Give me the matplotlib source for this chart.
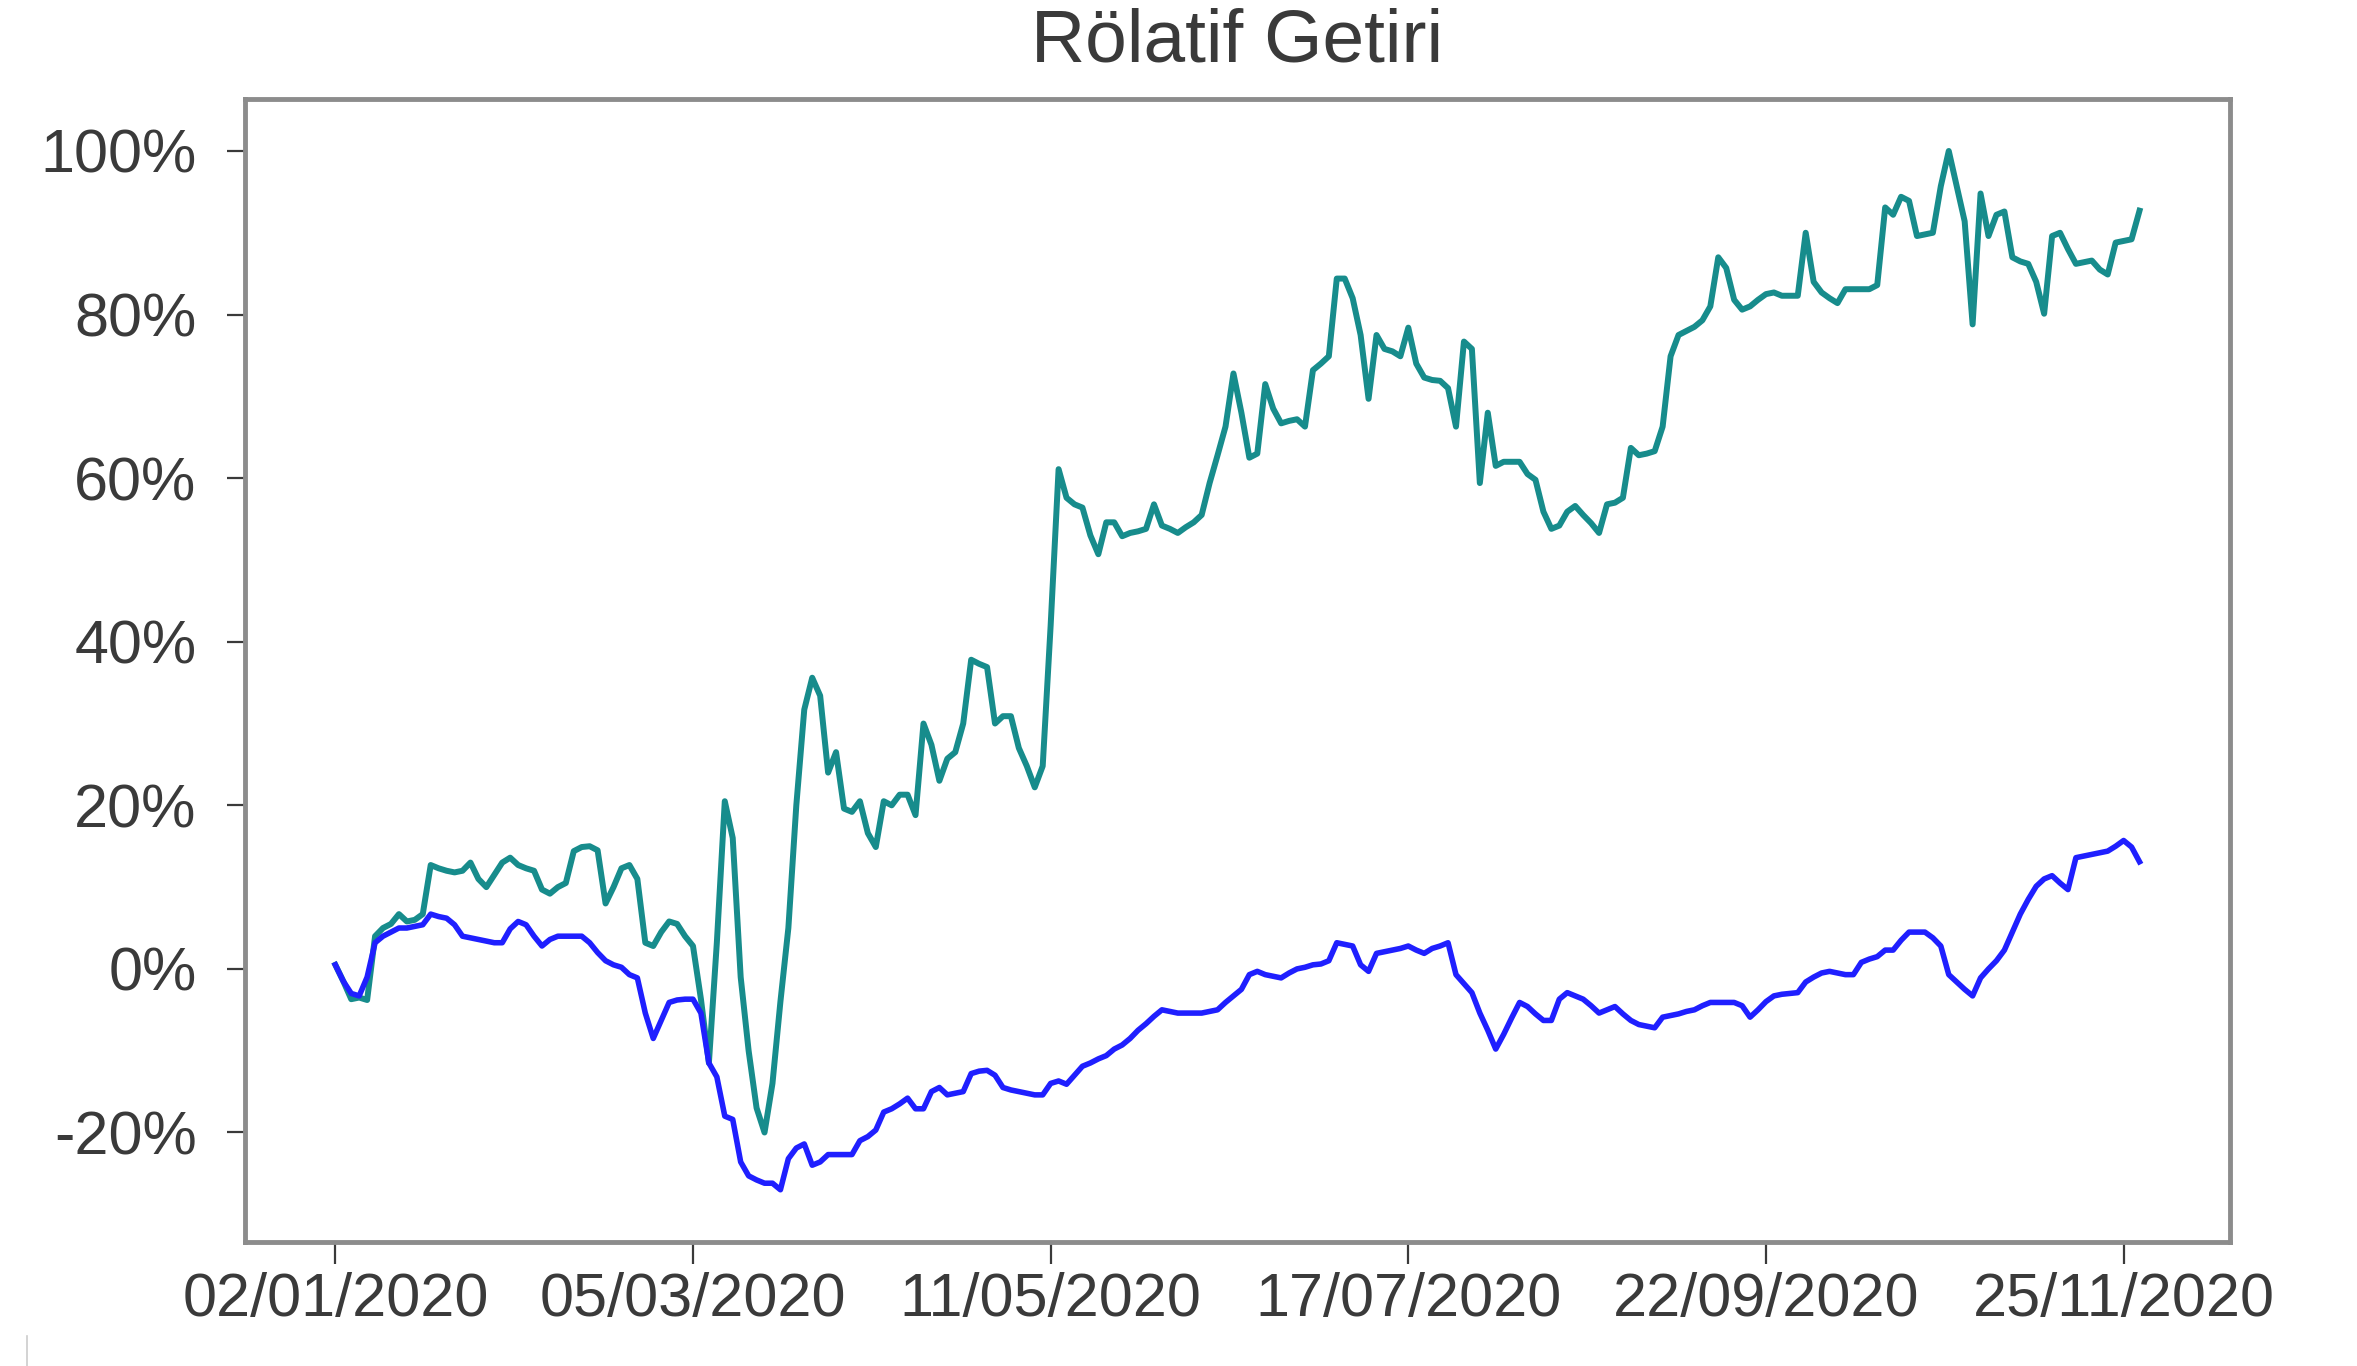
import matplotlib
matplotlib.use("Agg")
import matplotlib.pyplot as plt
from matplotlib.lines import Line2D

# Relatif getiri verisi (islem gunu bazinda, %)
hisse_getiri = [
    0.5, -1.5, -3.7, -3.5, -3.8, 4.0, 5.0, 5.5, 6.7, 5.8,
    6.0, 6.7, 12.7, 12.3, 12.0, 11.8, 12.0, 13.0, 11.0, 10.0,
    11.5, 13.0, 13.6, 12.7, 12.3, 12.0, 9.7, 9.2, 10.0, 10.5,
    14.4, 14.9, 15.0, 14.5, 8.0, 10.0, 12.3, 12.7, 11.0, 3.2,
    2.8, 4.5, 5.8, 5.5, 4.0, 2.8, -3.7, -11.5, 3.2, 20.5,
    16.0, -1.0, -10.0, -17.0, -20.0, -14.0, -4.0, 5.0, 20.0, 31.7,
    35.6, 33.4, 24.0, 26.5, 19.6, 19.2, 20.5, 16.6, 14.9, 20.5,
    20.0, 21.3, 21.3, 18.8, 30.0, 27.4, 23.0, 25.7, 26.5, 30.0,
    37.8, 37.3, 36.9, 30.0, 30.9, 30.9, 27.0, 24.8, 22.2, 24.8,
    42.0, 61.1, 57.6, 56.8, 56.4, 53.0, 50.7, 54.6, 54.6, 52.9,
    53.3, 53.5, 53.8, 56.8, 54.2, 53.8, 53.3, 54.0, 54.6, 55.5,
    59.4, 62.8, 66.3, 72.8, 68.0, 62.5, 63.0, 71.5, 68.5, 66.7,
    67.0, 67.2, 66.3, 73.2, 74.0, 74.9, 84.4, 84.4, 82.0, 77.5,
    69.7, 77.5, 75.8, 75.5, 74.9, 78.4, 74.0, 72.3, 72.0, 71.9,
    71.0, 66.3, 76.7, 75.8, 59.4, 68.0, 61.5, 62.0, 62.0, 62.0,
    60.5, 59.8, 55.9, 53.8, 54.2, 55.9, 56.6, 55.5, 54.5, 53.3,
    56.8, 57.0, 57.6, 63.7, 62.8, 63.0, 63.3, 66.3, 74.9, 77.5,
    78.0, 78.5, 79.3, 81.0, 87.0, 85.7, 81.8, 80.6, 81.0, 81.8,
    82.5, 82.7, 82.3, 82.3, 82.3, 90.0, 84.0, 82.7, 82.0, 81.4,
    83.1, 83.1, 83.1, 83.1, 83.6, 93.1, 92.2, 94.4, 93.9, 89.6,
    89.8, 90.0, 95.7, 100.0, 95.7, 91.4, 78.8, 94.8, 89.6, 92.2,
    92.6, 87.0, 86.5, 86.2, 84.0, 80.1, 89.6, 90.0, 88.0, 86.2,
    86.4, 86.6, 85.5, 84.9, 88.8, 89.0, 89.2, 92.7,
]

endeks_getiri = [
    0.5, -1.5, -3.0, -3.3, -1.0, 3.2, 4.0, 4.5, 5.0, 5.0,
    5.2, 5.4, 6.7, 6.4, 6.2, 5.4, 4.0, 3.8, 3.6, 3.4,
    3.2, 3.2, 4.9, 5.8, 5.4, 4.0, 2.8, 3.6, 4.0, 4.0,
    4.0, 4.0, 3.2, 2.0, 1.0, 0.5, 0.2, -0.7, -1.1, -5.4,
    -8.5, -6.3, -4.1, -3.8, -3.7, -3.7, -5.4, -11.5, -13.2, -18.0,
    -18.4, -23.6, -25.3, -25.8, -26.2, -26.2, -27.0, -23.2, -21.9, -21.4,
    -24.0, -23.6, -22.7, -22.7, -22.7, -22.7, -21.0, -20.5, -19.7, -17.5,
    -17.1, -16.5, -15.8, -17.1, -17.1, -15.0, -14.5, -15.4, -15.2, -15.0,
    -12.8, -12.5, -12.4, -13.0, -14.5, -14.8, -15.0, -15.2, -15.4, -15.4,
    -14.0, -13.7, -14.1, -13.0, -11.9, -11.5, -11.0, -10.6, -9.8, -9.3,
    -8.5, -7.5, -6.7, -5.8, -5.0, -5.2, -5.4, -5.4, -5.4, -5.4,
    -5.2, -5.0, -4.1, -3.3, -2.5, -0.7, -0.3, -0.7, -0.9, -1.1,
    -0.5, 0.0, 0.2, 0.5, 0.6, 1.0, 3.2, 3.0, 2.8, 0.5,
    -0.3, 1.9, 2.1, 2.3, 2.5, 2.8, 2.3, 1.9, 2.5, 2.8,
    3.2, -0.7, -1.8, -2.9, -5.4, -7.5, -9.8, -8.0, -6.0, -4.1,
    -4.6, -5.5, -6.3, -6.3, -3.7, -2.9, -3.3, -3.7, -4.5, -5.4,
    -5.0, -4.6, -5.5, -6.3, -6.8, -7.0, -7.2, -5.9, -5.7, -5.5,
    -5.2, -5.0, -4.5, -4.1, -4.1, -4.1, -4.1, -4.5, -5.9, -5.0,
    -4.0, -3.3, -3.1, -3.0, -2.9, -1.6, -1.0, -0.5, -0.3, -0.5,
    -0.7, -0.7, 0.8, 1.2, 1.5, 2.3, 2.3, 3.5, 4.5, 4.5,
    4.5, 3.8, 2.8, -0.7, -1.6, -2.5, -3.3, -1.1, 0.0, 1.0,
    2.3, 4.5, 6.7, 8.5, 10.1, 11.0, 11.4, 10.5, 9.7, 13.6,
    13.8, 14.0, 14.2, 14.4, 15.0, 15.7, 14.9, 13.1,
]

# Tarih etiketleri (her 45 islem gununde bir)
tarih_pozisyon = [0, 45, 90, 135, 180, 225]
tarih_etiket = ["02/01/2020", "05/03/2020", "11/05/2020",
                "17/07/2020", "22/09/2020", "25/11/2020"]
y_degerler = [-20, 0, 20, 40, 60, 80, 100]

plt.rcParams["font.family"] = ["Liberation Sans", "DejaVu Sans"]

gunler = list(range(len(hisse_getiri)))

fig = plt.figure(figsize=(23.57, 13.66), dpi=100)
ax = fig.add_axes([0.104, 0.091, 0.842, 0.8365])

ax.plot(gunler, hisse_getiri, color="#178c8c", linewidth=4.3)
ax.plot(gunler, endeks_getiri, color="#1f1fff", linewidth=4.0)

ax.set_title("Rölatif Getiri", fontsize=54, color="#3a3a3a", pad=27)

ax.set_xticks(tarih_pozisyon)
ax.set_xticklabels(tarih_etiket)
ax.set_yticks(y_degerler)
ax.set_yticklabels([f"{v}%" for v in y_degerler])

ax.tick_params(axis="x", labelsize=44, colors="#3a3a3a", length=16, width=1.6, pad=6)
ax.tick_params(axis="y", labelsize=44, colors="#3a3a3a", length=13, width=1.6, pad=22)

for spine in ax.spines.values():
    spine.set_color("#8c8c8c")
    spine.set_linewidth(3.5)

# sol alttaki ince gri cizgi
fig.add_artist(Line2D([0.0115, 0.0115], [0.0, 0.022], transform=fig.transFigure,
                      color="#cccccc", linewidth=1.2))

plt.savefig("out.png", dpi=100)
